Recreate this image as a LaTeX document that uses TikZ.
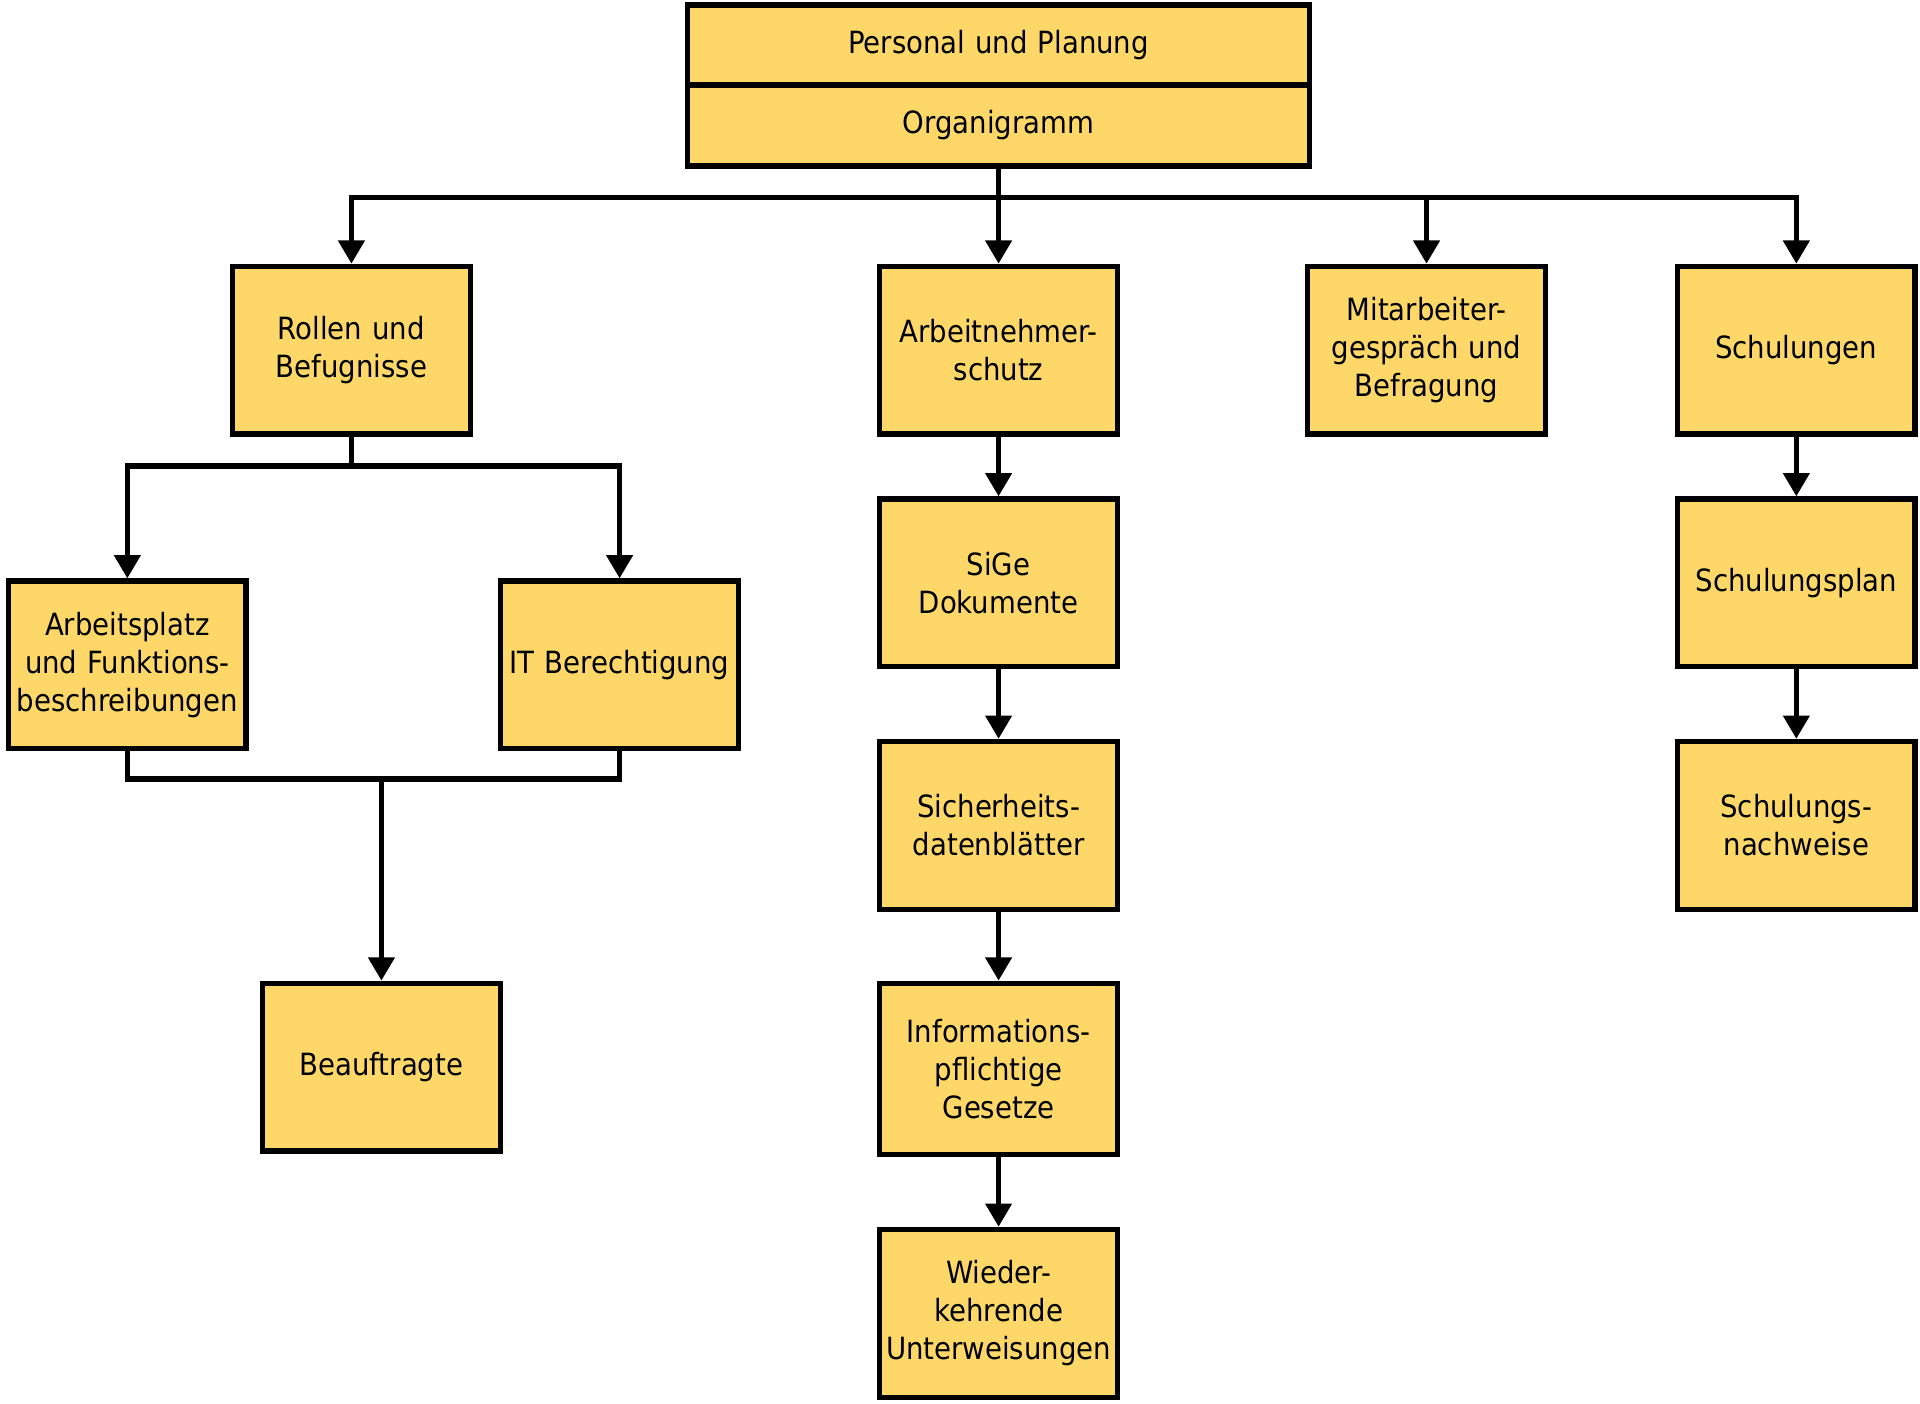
\documentclass[tikz,border=0pt]{standalone}
\usepackage{fontspec}
\setmainfont{DejaVu Sans Condensed}
\usetikzlibrary{arrows.meta}
\definecolor{boxfill}{HTML}{FDD868}
\tikzset{
  box/.style={draw=black, fill=boxfill, line width=4.3pt, minimum width=192pt, minimum height=137pt,
    text width=194pt, align=center, inner sep=0pt, font=\fontsize{25}{31}\selectfont},
  headbox/.style={box, minimum width=508pt, text width=500pt, minimum height=65pt},
  conn/.style={line width=4.3pt, line cap=butt},
  arr/.style={conn, -{Triangle[length=19pt,width=21pt]}}
}
\begin{document}
\begin{tikzpicture}[x=1pt,y=-1pt]
\path[use as bounding box] (0,0) rectangle (1568,1146);
% header
\node[headbox, minimum height=65pt] (top1) at (815.5,36.5) {Personal und Planung};
\node[headbox, minimum height=66pt] (top2) at (815.5,102.5) {Organigramm};
% row 1
\node[box] (rol) at (287,286) {Rollen und\\Befugnisse};
\node[box] (ans) at (815.5,286) {Arbeitnehmer-\\schutz};
\node[box] (mit) at (1165,286) {Mitarbeiter-\\gespräch und\\Befragung};
\node[box] (sch) at (1467,286) {Schulungen};
% left
\node[box] (apl) at (104,543) {Arbeitsplatz\\und Funktions-\\beschreibungen};
\node[box] (itb) at (506,543) {IT Berechtigung};
\node[box] (bea) at (311.5,871.5) {Beauftragte};
% middle
\node[box] (sig) at (815.5,476) {SiGe\\Dokumente};
\node[box] (sdb) at (815.5,674) {Sicherheits-\\datenblätter};
\node[box, minimum height=140pt] (inf) at (815.5,873) {Informations-\\pflichtige\\Gesetze};
\node[box] (wie) at (815.5,1072.5) {Wieder-\\kehrende\\Unterweisungen};
% right
\node[box] (spl) at (1467,476) {Schulungsplan};
\node[box] (snw) at (1467,674) {Schulungs-\\nachweise};
% connectors from header
\draw[arr] (top2.south) -- (ans.north);
\draw[arr] (top2.south) -- ++(0,23.5) -| (rol.north);
\draw[arr] (top2.south) -- ++(0,23.5) -| (mit.north);
\draw[arr] (top2.south) -- ++(0,23.5) -| (sch.north);
% left branch
\draw[arr] (rol.south) -- ++(0,24) -| (apl.north);
\draw[arr] (rol.south) -- ++(0,24) -| (itb.north);
\draw[conn] (apl.south) -- ++(0,22.5) -| (itb.south);
\coordinate (join) at (311.5,634);
\draw[arr] (join) -- (bea.north);
% middle chain
\draw[arr] (ans.south) -- (sig.north);
\draw[arr] (sig.south) -- (sdb.north);
\draw[arr] (sdb.south) -- (inf.north);
\draw[arr] (inf.south) -- (wie.north);
% right chain
\draw[arr] (sch.south) -- (spl.north);
\draw[arr] (spl.south) -- (snw.north);
\end{tikzpicture}
\end{document}
